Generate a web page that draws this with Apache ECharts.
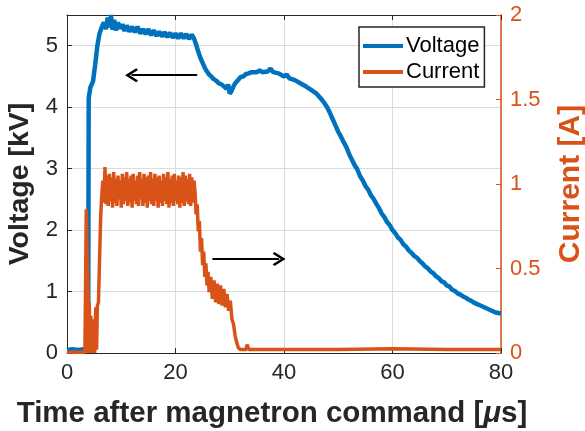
<!DOCTYPE html>
<html>
<head>
<meta charset="utf-8">
<script src="https://cdn.jsdelivr.net/npm/echarts@6/dist/echarts.min.js"></script>
<style>html,body{margin:0;padding:0;background:#fff}#c{width:585px;height:431px}</style>
</head>
<body>
<div id="c"></div>
<script>
// Time ticks [µs]
const timeTicks = [0, 20, 40, 60, 80];
const voltageTicks = [0, 1, 2, 3, 4, 5];
const currentTicks = [0, 0.5, 1, 1.5, 2];

// Voltage [kV] vs time [µs]
const voltageData = [
  [0,0.05],[1,0.06],[2,0.05],[3,0.06],[3.9,0.05],[4.0,4.15],[4.3,4.32],[4.8,4.42],[5.2,4.7],[5.6,5.0],
  [6.0,5.2],[6.4,5.3],[6.8,5.38],[7.2,5.27],[7.5,5.46],[7.8,5.3],[8.1,5.5],[8.4,5.26],[8.7,5.42],[9.0,5.25],
  [9.4,5.38],[9.8,5.28],[10.2,5.35],[10.6,5.24],[11,5.33],[11.5,5.23],[12,5.31],[12.5,5.22],[13,5.31],[13.5,5.2],
  [14,5.27],[14.5,5.19],[15,5.27],[15.5,5.17],[16,5.25],[16.5,5.16],[17,5.23],[17.5,5.15],[18,5.22],[18.5,5.14],
  [19,5.21],[19.5,5.13],[20,5.2],[20.5,5.12],[21,5.2],[21.5,5.12],[22,5.19],[22.5,5.11],[23,5.18],[23.4,5.12],
  [23.8,5.02],[24.2,4.9],[24.6,4.8],[25,4.72],[25.4,4.64],[25.8,4.58],[26.2,4.53],[26.6,4.5],[27,4.46],[27.5,4.43],
  [28,4.39],[28.5,4.37],[29,4.33],[29.4,4.3],[29.7,4.37],[30,4.22],[30.3,4.26],[30.7,4.34],[31,4.39],[31.5,4.44],
  [32,4.49],[32.5,4.5],[33,4.54],[33.5,4.55],[34,4.57],[35,4.57],[35.5,4.6],[36,4.57],[37,4.58],[37.5,4.63],
  [38,4.57],[39,4.55],[40,4.5],[40.5,4.53],[41,4.47],[42,4.44],[43,4.39],[44,4.34],[45,4.28],[46,4.22],
  [47,4.12],[47.5,4.06],[48,3.99],[48.5,3.9],[49,3.8],[49.5,3.7],[50,3.6],[50.5,3.52],[51,3.43],[51.5,3.35],
  [52,3.24],[52.5,3.15],[53,3.06],[53.5,2.99],[54,2.88],[54.5,2.81],[55,2.72],[55.5,2.66],[56,2.57],[56.5,2.51],
  [57,2.43],[57.5,2.36],[58,2.27],[58.5,2.21],[59,2.13],[59.5,2.08],[60,2.0],[60.5,1.95],[61,1.88],[61.5,1.84],
  [62,1.77],[62.5,1.73],[63,1.67],[63.5,1.63],[64,1.58],[64.5,1.55],[65,1.5],[65.5,1.46],[66,1.41],[66.5,1.38],
  [67,1.33],[67.5,1.3],[68,1.25],[68.5,1.22],[69,1.17],[69.5,1.15],[70,1.1],[70.5,1.08],[71,1.03],[71.5,1.01],
  [72,0.97],[72.5,0.95],[73,0.92],[73.5,0.9],[74,0.87],[74.5,0.85],[75,0.82],[75.5,0.8],[76,0.78],[76.5,0.76],
  [77,0.74],[77.5,0.72],[78,0.7],[78.5,0.68],[79,0.66],[79.5,0.65],[80,0.64]
];

// Current [A] vs time [µs]
const currentData = [
  [0,0.005],[3.3,0.005],[3.45,0.5],[3.55,0.85],[3.7,0.84],[3.85,0.4],[3.95,0.0],[4.1,0.3],[4.25,0.03],[4.4,0.22],
  [4.5,0.0],[4.65,0.18],[4.8,0.01],[4.95,0.2],[5.1,0.0],[5.3,0.27],[5.45,0.02],[5.6,0.28],[5.8,0.3],[6.0,0.55],
  [6.2,0.8],[6.4,0.93],[6.6,1.02],[6.8,0.89],[7.0,1.1],[7.2,0.88],
  [7.4,1.05],[7.6,0.87],[7.8,1.06],[8.0,0.9],[8.2,1.04],[8.4,0.86],[8.6,1.07],[8.8,0.89],[9.0,1.03],[9.2,0.87],
  [9.4,1.05],[9.6,0.91],[9.8,1.02],[10.0,0.86],[10.2,1.06],[10.4,0.88],[10.6,1.04],[10.8,0.9],[11.0,1.07],[11.2,0.87],
  [11.4,1.03],[11.6,0.89],[11.8,1.05],[12.0,0.86],[12.2,1.06],[12.4,0.9],[12.6,1.02],[12.8,0.88],[13.0,1.05],[13.2,0.87],
  [13.4,1.07],[13.6,0.91],[13.8,1.03],[14.0,0.87],[14.2,1.06],[14.4,0.89],[14.6,1.04],[14.8,0.86],[15.0,1.05],[15.2,0.9],
  [15.4,1.07],[15.6,0.88],[15.8,1.03],[16.0,0.87],[16.2,1.06],[16.4,0.9],[16.6,1.04],[16.8,0.86],[17.0,1.05],[17.2,0.89],
  [17.4,1.02],[17.6,0.87],[17.8,1.06],[18.0,0.9],[18.2,1.04],[18.4,0.88],[18.6,1.07],[18.8,0.86],[19.0,1.03],[19.2,0.89],
  [19.4,1.05],[19.6,0.87],[19.8,1.06],[20.0,0.9],[20.2,1.02],[20.4,0.88],[20.6,1.05],[20.8,0.86],[21.0,1.04],[21.2,0.89],
  [21.4,1.07],[21.6,0.87],[21.8,1.05],[22.0,0.9],[22.2,1.03],[22.4,0.88],[22.6,1.06],[22.8,0.87],[23.0,1.04],[23.2,0.89],
  [23.4,1.02],[23.6,0.95],[23.8,0.82],[24.0,0.88],[24.2,0.72],[24.4,0.78],[24.6,0.6],[24.8,0.68],[25.0,0.52],[25.2,0.6],
  [25.4,0.45],[25.6,0.53],[25.8,0.4],[26.0,0.48],[26.2,0.36],[26.5,0.45],[26.8,0.32],[27.1,0.43],[27.4,0.3],[27.7,0.41],
  [28.0,0.29],[28.3,0.4],[28.6,0.28],[28.9,0.38],[29.2,0.27],[29.5,0.35],[29.8,0.25],[30.1,0.31],[30.4,0.2],[30.7,0.17],
  [31.0,0.1],[31.3,0.06],[31.6,0.03],[32.0,0.02],[33.0,0.02],[33.2,0.05],[33.5,0.02],[40,0.02],[50,0.02],[60,0.025],
  [70,0.02],[80,0.02]
];

// Annotation arrows (data coordinates)
const voltageArrow = [[24.0, 4.52], [11.9, 4.52]];
const currentArrow = [[26.8, 0.556], [39.1, 0.556]];

const BLUE = '#0072BD', ORANGE = '#D95319', DARK = '#262626';
const FONT = 'Liberation Sans, Arial, sans-serif';
const chevron = 'path://M0,0 L7,11 L5.3,12.8 L0,4.6 L-5.3,12.8 L-7,11 Z';

const chart = echarts.init(document.getElementById('c'), null, {renderer: 'canvas'});
chart.setOption({
  animation: false,
  backgroundColor: '#fff',
  textStyle: {fontFamily: FONT},
  grid: {left: 67, right: 84, top: 15, bottom: 78, containLabel: false, outerBoundsMode: 'none'},
  legend: {
    data: ['Voltage', 'Current'],
    orient: 'vertical',
    left: 359, top: 27,
    padding: [8, 5, 4, 4],
    itemGap: 4,
    itemWidth: 40, itemHeight: 4,
    icon: 'rect',
    backgroundColor: '#fff',
    borderColor: DARK, borderWidth: 1.5,
    textStyle: {fontSize: 22, color: '#000', fontFamily: FONT, padding: [0, 0, 0, -2]}
  },
  xAxis: [{
    type: 'value', min: timeTicks[0], max: timeTicks[timeTicks.length - 1], interval: 20,
    position: 'bottom',
    name: '{t|Time after magnetron command [}{m|μ}{t|s]}',
    nameLocation: 'middle', nameGap: 46,
    nameTextStyle: {
      padding: [0, 24, 0, 0],
      rich: {
        t: {fontSize: 29.5, fontWeight: 'bold', color: DARK, fontFamily: FONT},
        m: {fontSize: 29.5, fontWeight: 'bold', fontStyle: 'italic', color: DARK, fontFamily: FONT}
      }
    },
    axisLine: {show: true, onZero: false, lineStyle: {color: DARK, width: 1}},
    axisTick: {show: true, inside: true, length: 5, lineStyle: {color: DARK}},
    axisLabel: {fontSize: 22, color: DARK, margin: 9, fontFamily: FONT},
    splitLine: {show: true, lineStyle: {color: '#dcdcdc', width: 1}}
  }, {
    type: 'value', min: timeTicks[0], max: timeTicks[timeTicks.length - 1], interval: 20,
    position: 'top',
    axisLine: {show: true, onZero: false, lineStyle: {color: DARK, width: 1}},
    axisTick: {show: true, inside: true, length: 5, lineStyle: {color: DARK}},
    axisLabel: {show: false},
    splitLine: {show: false}
  }],
  yAxis: [{
    type: 'value', min: voltageTicks[0], max: 5.5, interval: 1,
    position: 'left',
    name: 'Voltage [kV]', nameLocation: 'middle', nameRotate: 90, nameGap: 30,
    nameTextStyle: {fontSize: 28.5, fontWeight: 'bold', color: DARK, fontFamily: FONT},
    axisLine: {show: true, onZero: false, lineStyle: {color: DARK, width: 1}},
    axisTick: {show: true, inside: true, length: 5, lineStyle: {color: DARK}},
    axisLabel: {fontSize: 22, color: DARK, margin: 9, showMaxLabel: false, fontFamily: FONT},
    splitLine: {show: true, lineStyle: {color: '#dcdcdc', width: 1}}
  }, {
    type: 'value', min: currentTicks[0], max: currentTicks[currentTicks.length - 1], interval: 0.5,
    position: 'right',
    name: 'Current [A]', nameLocation: 'middle', nameRotate: 90, nameGap: 55,
    nameTextStyle: {fontSize: 30, fontWeight: 'bold', color: ORANGE, fontFamily: FONT, padding: [0, 0, 0, 0]},
    axisLine: {show: true, onZero: false, lineStyle: {color: ORANGE, width: 1.5}},
    axisTick: {show: true, inside: true, length: 5, lineStyle: {color: ORANGE}},
    axisLabel: {fontSize: 22, color: ORANGE, margin: 9, fontFamily: FONT},
    splitLine: {show: false}
  }],
  series: [{
    name: 'Voltage', type: 'line', xAxisIndex: 0, yAxisIndex: 0,
    data: voltageData, showSymbol: false, symbol: 'none',
    lineStyle: {color: BLUE, width: 4.5}, itemStyle: {color: BLUE},
    markLine: {
      silent: true, symbol: ['none', chevron], symbolSize: [14, 13],
      label: {show: false},
      lineStyle: {color: '#000', width: 2, type: 'solid'},
      data: [[{coord: voltageArrow[0]}, {coord: voltageArrow[1]}]]
    }
  }, {
    name: 'Current', type: 'line', xAxisIndex: 0, yAxisIndex: 1,
    data: currentData, showSymbol: false, symbol: 'none',
    lineStyle: {color: ORANGE, width: 3.5}, itemStyle: {color: ORANGE},
    markLine: {
      silent: true, symbol: ['none', chevron], symbolSize: [14, 13],
      label: {show: false},
      lineStyle: {color: '#000', width: 2, type: 'solid'},
      data: [[{coord: currentArrow[0]}, {coord: currentArrow[1]}]]
    }
  }]
});
</script>
</body>
</html>
